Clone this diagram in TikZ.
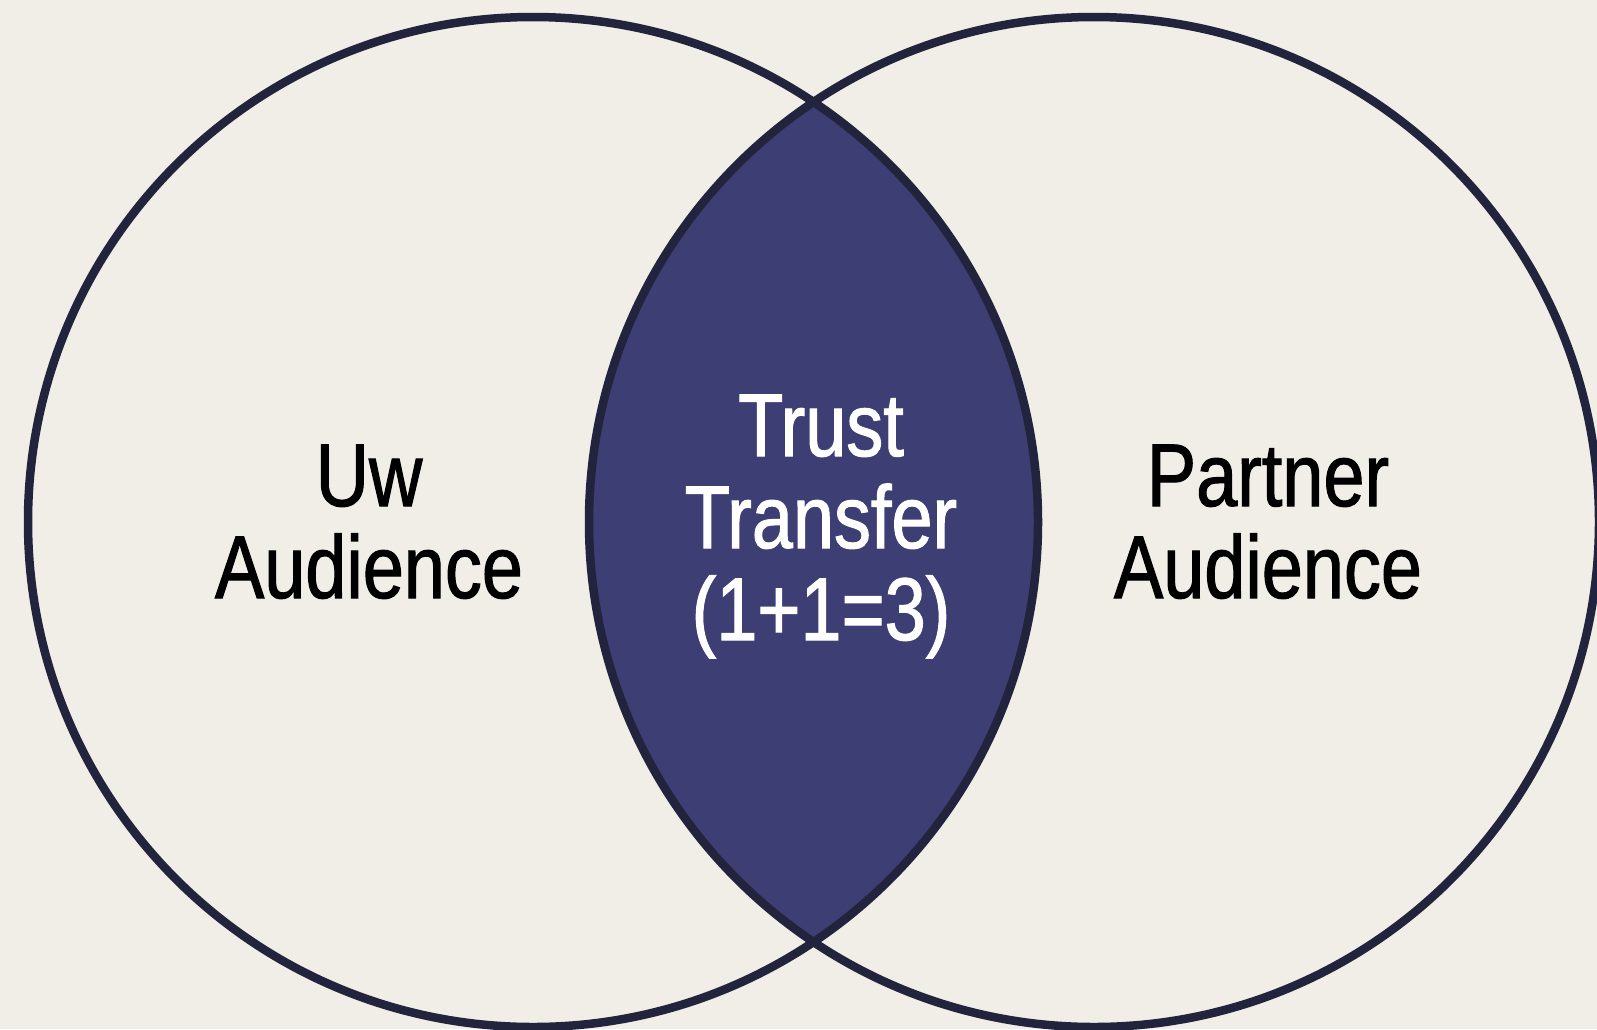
\documentclass[tikz,border=0pt]{standalone}
\usepackage{fontspec}
\setmainfont[FakeStretch=0.83, FakeBold=1.2]{Liberation Sans}
\definecolor{paper}{HTML}{F0EEE6}
\definecolor{ink}{HTML}{22243D}
\definecolor{lensfill}{HTML}{3D3E74}
\begin{document}
\begin{tikzpicture}[x=1pt,y=-1pt,
  ring/.style={draw=ink, line width=8.5pt},
  lbl/.style={font=\fontsize{89}{92}\selectfont, align=center, inner sep=0pt, anchor=base}]
  % page background
  \fill[paper] (0,0) rectangle (1597,1029);
  \useasboundingbox (0,0) rectangle (1597,1029);
  % circle centres
  \coordinate (cl) at (533,522);
  \coordinate (cr) at (1094,522);
  % shaded overlap
  \begin{scope}
    \clip (cl) circle [radius=505pt];
    \fill[lensfill] (cr) circle [radius=505pt];
  \end{scope}
  % outlines
  \draw[ring] (cl) circle [radius=505pt];
  \draw[ring] (cr) circle [radius=505pt];
  % labels (anchored at the baseline of the last line)
  \node[lbl, text=black] (uw) at (369,598) {Uw\\Audience};
  \node[lbl, text=white] (trust) at (821,640) {Trust\\Transfer\\(1+1=3)};
  \node[lbl, text=black] (partner) at (1268,598) {Partner\\Audience};
\end{tikzpicture}
\end{document}
